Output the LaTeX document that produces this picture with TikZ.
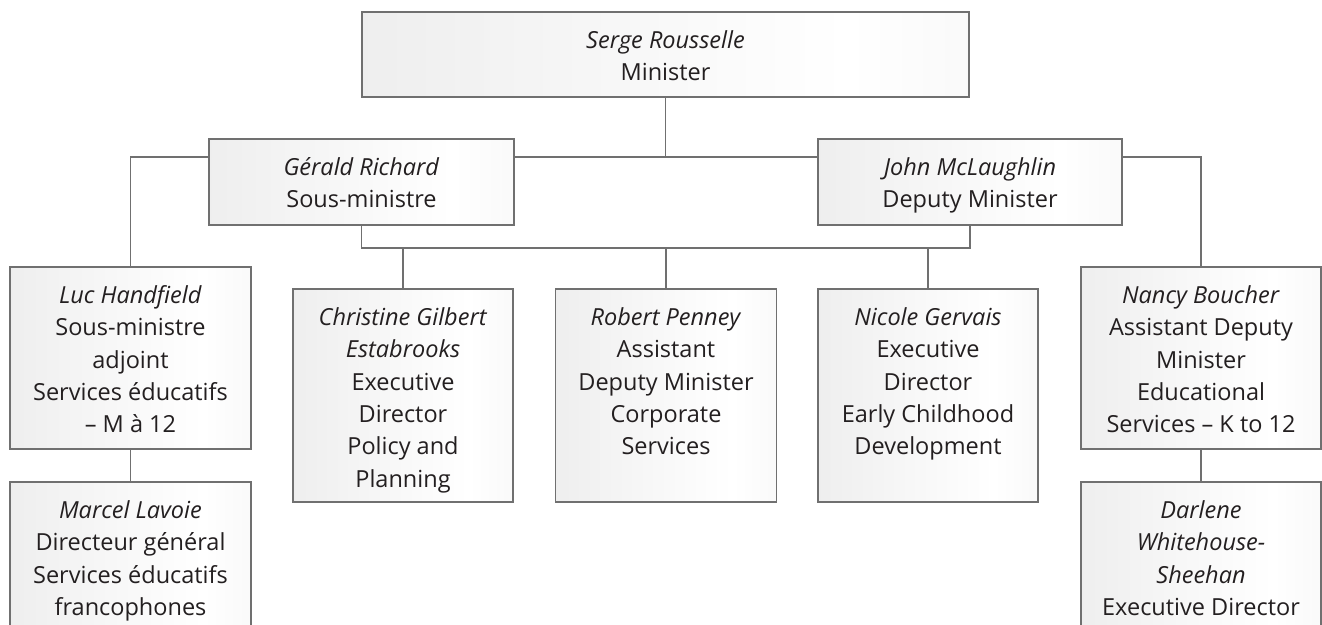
\documentclass[tikz,border=0pt]{standalone}
\usepackage{fontspec}
\setmainfont{Open Sans}
\definecolor{boxline}{HTML}{707070}
\definecolor{txt}{HTML}{231F20}
\pgfdeclarehorizontalshading{boxshade}{100bp}{color(0bp)=(black!11); color(10bp)=(black!9); color(65bp)=(white); color(92bp)=(black!6); color(100bp)=(black!13)}
\newcommand{\boxtext}[3]{\parbox[c][#2pt][t]{#1pt}{\centering\fontsize{23.5pt}{32.3pt}\selectfont\color{txt}\rule{0pt}{36.5pt}#3\par}}
\tikzset{
  orgbox/.style={draw=boxline, line width=1.7pt, shading=boxshade, inner sep=0pt, outer sep=0pt, rectangle},
  conn/.style={draw=boxline, line width=1.7pt}
}
\begin{document}
\begin{tikzpicture}[x=1pt,y=-1pt]
\useasboundingbox (0,0) rectangle (1322,624);
\clip (0,0) rectangle (1322,624);
\node[orgbox] (min) at (665.5,54.5) {\boxtext{607}{85}{\textit{Serge Rousselle}\\Minister}};
\node[orgbox] (ger) at (361.5,182) {\boxtext{305}{86}{\textit{Gérald Richard}\\Sous-ministre}};
\node[orgbox] (john) at (970,182) {\boxtext{304}{86}{\textit{John McLaughlin}\\Deputy Minister}};
\node[orgbox] (luc) at (130.5,358) {\boxtext{241}{182}{\textit{Luc Handfield}\\Sous-ministre\\adjoint\\Services éducatifs\\– M à 12}};
\node[orgbox] (marcel) at (130.5,566) {\boxtext{241}{168}{\textit{Marcel Lavoie}\\Directeur général\\Services éducatifs\\francophones}};
\node[orgbox] (chr) at (403,395.5) {\boxtext{220}{213}{\textit{Christine Gilbert}\\\textit{Estabrooks}\\Executive\\Director\\Policy and\\Planning}};
\node[orgbox] (rob) at (666,395.5) {\boxtext{221}{213}{\textit{Robert Penney}\\Assistant\\Deputy Minister\\Corporate\\Services}};
\node[orgbox] (nic) at (928,395.5) {\boxtext{220}{213}{\textit{Nicole Gervais}\\Executive\\Director\\Early Childhood\\Development}};
\node[orgbox] (nancy) at (1201,358) {\boxtext{240}{182}{\textit{Nancy Boucher}\\Assistant Deputy\\Minister\\Educational\\Services – K to 12}};
\node[orgbox] (dar) at (1201,566) {\boxtext{240}{168}{\textit{Darlene}\\\textit{Whitehouse-}\\\textit{Sheehan}\\Executive Director}};
\coordinate (h1) at (0,157.3);
\coordinate (h2) at (0,247.7);
\draw[conn] (min.south) -- (min.south |- h1);
\draw[conn] (ger.east |- h1) -- (john.west |- h1);
\draw[conn] (ger.west |- h1) -| (luc.north);
\draw[conn] (john.east |- h1) -| (nancy.north);
\draw[conn] (ger.south) -- (ger.south |- h2) -- (john.south |- h2) -- (john.south);
\draw[conn] (chr.north) -- (chr.north |- h2);
\draw[conn] (rob.north) -- (rob.north |- h2);
\draw[conn] (nic.north) -- (nic.north |- h2);
\draw[conn] (luc.south) -- (marcel.north);
\draw[conn] (nancy.south) -- (dar.north);
\end{tikzpicture}
\end{document}
